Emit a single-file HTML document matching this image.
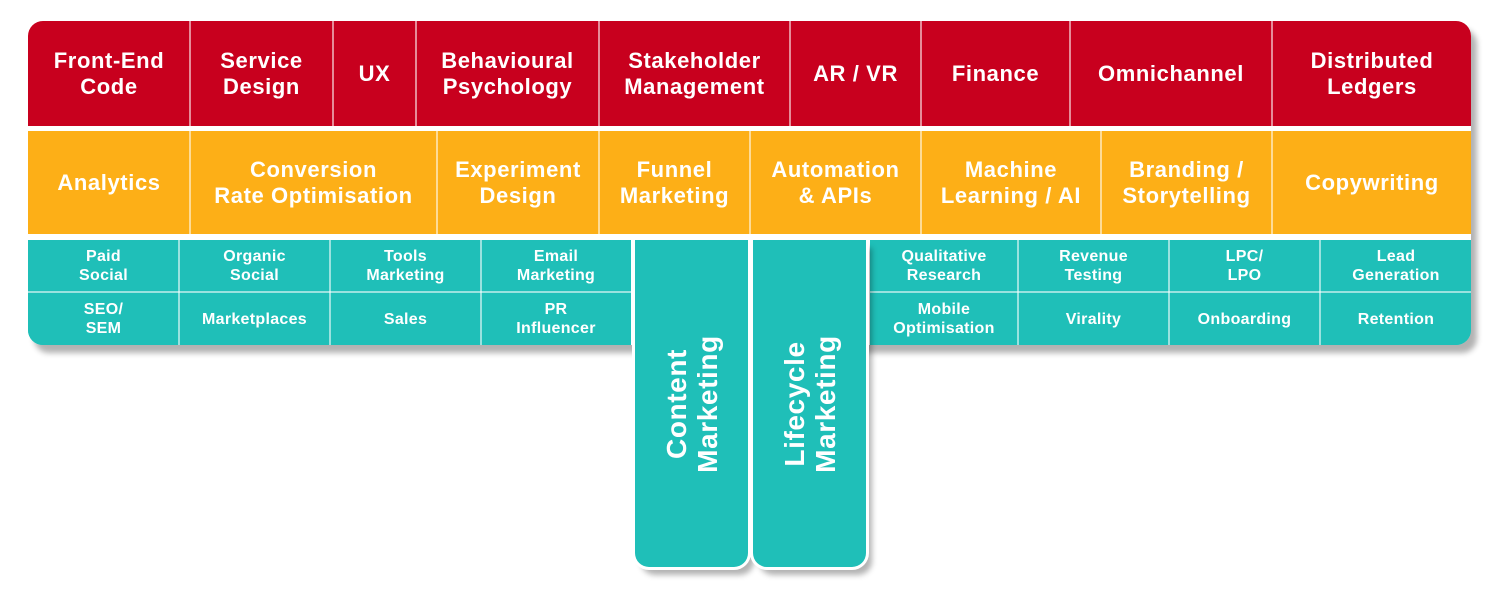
<!DOCTYPE html>
<html><head><style>
body{margin:0;width:1500px;height:604px;background:#fff;position:relative;overflow:hidden;font-family:"Liberation Sans",sans-serif;font-weight:bold;color:#fff}
.c{position:absolute;display:flex;align-items:center;justify-content:center;text-align:center;box-sizing:border-box}
.r{background:#c8001e;font-size:22px;line-height:26px;top:21px;height:105px;letter-spacing:.6px}
.o{background:#fdaf17;font-size:22px;line-height:26px;top:131px;height:103px;letter-spacing:.6px}
.t{background:#1fbfb8;font-size:16px;line-height:19px;height:52px;letter-spacing:.3px}
.sep{position:absolute;background:rgba(255,255,255,.55);width:2px}
.hs{position:absolute;background:rgba(255,255,255,.55);height:2px}
.v{position:absolute;top:240px;width:113px;height:327px;background:#1fbfb8;border-radius:0 0 14px 14px;box-shadow:0 0 0 3px #fff,6px 8px 6px rgba(0,0,0,.3)}
.v span{position:absolute;left:50%;top:50%;transform:translate(-50%,-50%) rotate(-90deg);white-space:nowrap;font-size:28px;line-height:31px;text-align:center;letter-spacing:.6px}
</style></head><body>
<div style="position:absolute;left:28px;top:21px;width:1443px;height:324px;border-radius:15px;box-shadow:6px 8px 6px rgba(0,0,0,.3);background:#fff"></div>
<div style="position:absolute;left:0;top:0;width:1500px;height:604px;clip-path:inset(21px 29px 259px 28px round 15px)">
<div class="c r" style="left:28px;width:162px">Front-End<br>Code</div>
<div class="c r" style="left:190px;width:143px">Service<br>Design</div>
<div class="c r" style="left:333px;width:83px">UX</div>
<div class="c r" style="left:416px;width:183px">Behavioural<br>Psychology</div>
<div class="c r" style="left:599px;width:191px">Stakeholder<br>Management</div>
<div class="c r" style="left:790px;width:131px">AR / VR</div>
<div class="c r" style="left:921px;width:149px">Finance</div>
<div class="c r" style="left:1070px;width:202px">Omnichannel</div>
<div class="c r" style="left:1272px;width:200px">Distributed<br>Ledgers</div>
<div class="c o" style="left:28px;width:162px">Analytics</div>
<div class="c o" style="left:190px;width:247px">Conversion<br>Rate Optimisation</div>
<div class="c o" style="left:437px;width:162px">Experiment<br>Design</div>
<div class="c o" style="left:599px;width:151px">Funnel<br>Marketing</div>
<div class="c o" style="left:750px;width:171px">Automation<br>&amp; APIs</div>
<div class="c o" style="left:921px;width:180px">Machine<br>Learning / AI</div>
<div class="c o" style="left:1101px;width:171px">Branding /<br>Storytelling</div>
<div class="c o" style="left:1272px;width:200px">Copywriting</div>
<div class="c t" style="left:28px;top:240px;width:603px;height:105px"></div>
<div class="c t" style="left:870px;top:240px;width:602px;height:105px"></div>
<div class="c t" style="left:28px;top:240px;width:151px">Paid<br>Social</div>
<div class="c t" style="left:179px;top:240px;width:151px">Organic<br>Social</div>
<div class="c t" style="left:330px;top:240px;width:151px">Tools<br>Marketing</div>
<div class="c t" style="left:481px;top:240px;width:150px">Email<br>Marketing</div>
<div class="c t" style="left:28px;top:293px;width:151px">SEO/<br>SEM</div>
<div class="c t" style="left:179px;top:293px;width:151px">Marketplaces</div>
<div class="c t" style="left:330px;top:293px;width:151px">Sales</div>
<div class="c t" style="left:481px;top:293px;width:150px">PR<br>Influencer</div>
<div class="c t" style="left:870px;top:240px;width:148px">Qualitative<br>Research</div>
<div class="c t" style="left:1018px;top:240px;width:151px">Revenue<br>Testing</div>
<div class="c t" style="left:1169px;top:240px;width:151px">LPC/<br>LPO</div>
<div class="c t" style="left:1320px;top:240px;width:152px">Lead<br>Generation</div>
<div class="c t" style="left:870px;top:293px;width:148px">Mobile<br>Optimisation</div>
<div class="c t" style="left:1018px;top:293px;width:151px">Virality</div>
<div class="c t" style="left:1169px;top:293px;width:151px">Onboarding</div>
<div class="c t" style="left:1320px;top:293px;width:152px">Retention</div>
<div class="sep" style="left:189px;top:21px;height:105px"></div>
<div class="sep" style="left:332px;top:21px;height:105px"></div>
<div class="sep" style="left:415px;top:21px;height:105px"></div>
<div class="sep" style="left:598px;top:21px;height:105px"></div>
<div class="sep" style="left:789px;top:21px;height:105px"></div>
<div class="sep" style="left:920px;top:21px;height:105px"></div>
<div class="sep" style="left:1069px;top:21px;height:105px"></div>
<div class="sep" style="left:1271px;top:21px;height:105px"></div>
<div class="sep" style="left:189px;top:131px;height:103px"></div>
<div class="sep" style="left:436px;top:131px;height:103px"></div>
<div class="sep" style="left:598px;top:131px;height:103px"></div>
<div class="sep" style="left:749px;top:131px;height:103px"></div>
<div class="sep" style="left:920px;top:131px;height:103px"></div>
<div class="sep" style="left:1100px;top:131px;height:103px"></div>
<div class="sep" style="left:1271px;top:131px;height:103px"></div>
<div class="sep" style="left:178px;top:240px;height:105px"></div>
<div class="sep" style="left:329px;top:240px;height:105px"></div>
<div class="sep" style="left:480px;top:240px;height:105px"></div>
<div class="sep" style="left:1017px;top:240px;height:105px"></div>
<div class="sep" style="left:1168px;top:240px;height:105px"></div>
<div class="sep" style="left:1319px;top:240px;height:105px"></div>
<div class="hs" style="left:28px;top:291px;width:603px"></div>
<div class="hs" style="left:870px;top:291px;width:602px"></div>
</div>
<div class="v" style="left:635px"><span>Content<br>Marketing</span></div>
<div class="v" style="left:753px"><span>Lifecycle<br>Marketing</span></div>
</body></html>
